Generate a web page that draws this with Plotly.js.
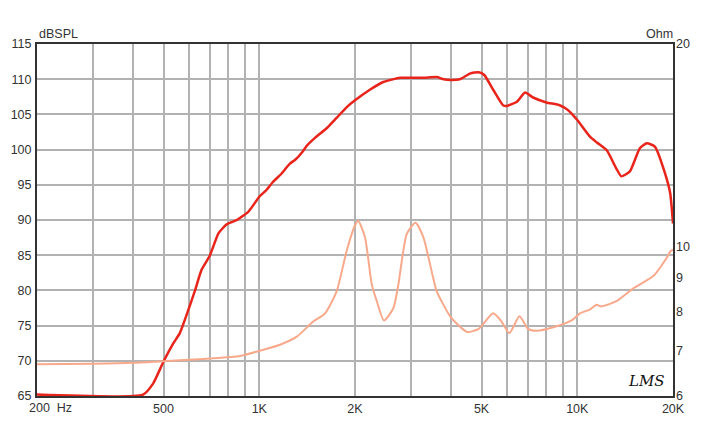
<!DOCTYPE html>
<html>
<head>
<meta charset="utf-8">
<script src="https://cdn.plot.ly/plotly-3.0.1.min.js"></script>
<style>html,body{margin:0;padding:0;background:#fff;}#chart{width:713px;height:427px;}</style>
</head>
<body>
<div id="chart"></div>
<script>
// SPL response (Hz, dBSPL)
const splFreq = [200, 431, 464, 500, 537, 562, 598, 628, 658, 700, 744, 790, 850, 925, 1000, 1050, 1104, 1170, 1248, 1300, 1362, 1414, 1500, 1635, 1750, 1892, 2000, 2227, 2454, 2774, 3000, 3300, 3612, 3800, 4000, 4274, 4598, 4900, 5100, 5440, 5840, 6000, 6460, 6850, 7260, 8000, 8800, 9360, 10000, 10980, 11530, 12380, 13270, 13760, 14640, 15730, 16560, 17560, 18860, 19600, 20000];
const splDb = [65.2, 65.2, 66.8, 69.9, 72.5, 73.9, 77.2, 80.0, 82.9, 85.0, 88.1, 89.4, 90.0, 91.2, 93.3, 94.2, 95.4, 96.5, 98.0, 98.6, 99.6, 100.6, 101.7, 103.1, 104.5, 106.1, 107.0, 108.5, 109.6, 110.2, 110.2, 110.2, 110.3, 110.0, 109.9, 110.0, 110.8, 111.0, 110.6, 108.5, 106.3, 106.2, 106.8, 108.1, 107.4, 106.7, 106.3, 105.6, 104.2, 101.8, 101.0, 99.9, 97.3, 96.2, 96.9, 100.2, 100.9, 100.4, 96.7, 93.8, 89.5];

// Impedance (Hz, Ohm)
const impFreq = [200, 300, 400, 500, 600, 700, 870, 1000, 1162, 1312, 1478, 1610, 1752, 1884, 2000, 2048, 2150, 2258, 2342, 2466, 2640, 2738, 2910, 3098, 3280, 3520, 3612, 4000, 4500, 4900, 5440, 5780, 6120, 6580, 7000, 7440, 8410, 9600, 10200, 10980, 11500, 11900, 13270, 15000, 17380, 19100, 19700, 20000];
const impOhm = [6.69, 6.70, 6.72, 6.76, 6.79, 6.82, 6.88, 7.0, 7.15, 7.35, 7.74, 7.96, 8.59, 9.87, 10.76, 10.92, 10.33, 8.79, 8.3, 7.77, 8.1, 8.79, 10.45, 10.85, 10.33, 9.0, 8.59, 7.86, 7.47, 7.55, 7.96, 7.74, 7.44, 7.88, 7.55, 7.50, 7.59, 7.77, 7.96, 8.07, 8.2, 8.15, 8.3, 8.67, 9.05, 9.62, 9.86, 9.9];

// Axis ticks
const xGrid = [200, 300, 400, 500, 600, 700, 800, 900, 1000, 2000, 3000, 4000, 5000, 6000, 7000, 8000, 9000, 10000, 20000];
const xText = ['', '', '', '500', '', '', '', '', '1K', '2K', '', '', '5K', '', '', '', '', '10K', '20K'];
const dbTicks = [65, 70, 75, 80, 85, 90, 95, 100, 105, 110, 115];
const ohmTicks = [6, 7, 8, 9, 10, 20];

const font = {family: 'Liberation Sans, Arial, sans-serif', size: 12.5, color: '#333'};

const traces = [
  {x: impFreq, y: impOhm, yaxis: 'y2', mode: 'lines', line: {color: '#f8a98b', width: 2, shape: 'spline', smoothing: 0.6}, hoverinfo: 'skip'},
  {x: splFreq, y: splDb, mode: 'lines', line: {color: '#e8241b', width: 2.5, shape: 'spline', smoothing: 0.5}, hoverinfo: 'skip'}
];

const layout = {
  width: 713, height: 427,
  margin: {l: 37, r: 40, t: 44, b: 31, pad: 0},
  paper_bgcolor: '#fff', plot_bgcolor: '#fff',
  showlegend: false,
  font: font,
  xaxis: {
    type: 'log', range: [Math.log10(200), Math.log10(20000)],
    tickmode: 'array', tickvals: xGrid, ticktext: xText,
    showgrid: true, gridcolor: '#b2b2b2', gridwidth: 2,
    showline: true, linecolor: '#333', linewidth: 2, mirror: true,
    ticks: '', zeroline: false, tickfont: font, fixedrange: true
  },
  yaxis: {
    range: [65, 115], tickmode: 'array', tickvals: dbTicks,
    showgrid: true, gridcolor: '#b2b2b2', gridwidth: 2,
    showline: true, linecolor: '#333', linewidth: 2, mirror: true,
    ticks: '', zeroline: false, tickfont: font, ticklabelstandoff: 1
  },
  yaxis2: {
    overlaying: 'y', side: 'right', type: 'log',
    range: [Math.log10(6), Math.log10(20)],
    tickmode: 'array', tickvals: ohmTicks, ticktext: ohmTicks.map(String),
    showgrid: false, showline: false, ticks: '', zeroline: false, tickfont: font,
    ticklabelstandoff: 2
  },
  annotations: [
    {text: 'dBSPL', xref: 'paper', yref: 'paper', x: 0, y: 1, xanchor: 'left', yanchor: 'bottom', xshift: 0, yshift: 1, showarrow: false, font: font},
    {text: 'Ohm', xref: 'paper', yref: 'paper', x: 1, y: 1, xanchor: 'right', yanchor: 'bottom', xshift: 2, yshift: 1, showarrow: false, font: font},
    {text: '200  Hz', xref: 'paper', yref: 'paper', x: 0, y: 0, xanchor: 'left', yanchor: 'top', xshift: -10, yshift: -3, showarrow: false, font: font},
    {text: '<i>LMS</i>', xref: 'paper', yref: 'paper', x: 1, y: 0, xanchor: 'right', yanchor: 'bottom', xshift: -6, yshift: 4, showarrow: false, font: {family: 'DejaVu Serif, serif', size: 15, color: '#111'}}
  ]
};

Plotly.newPlot('chart', traces, layout, {displayModeBar: false, staticPlot: true});
</script>
</body>
</html>
